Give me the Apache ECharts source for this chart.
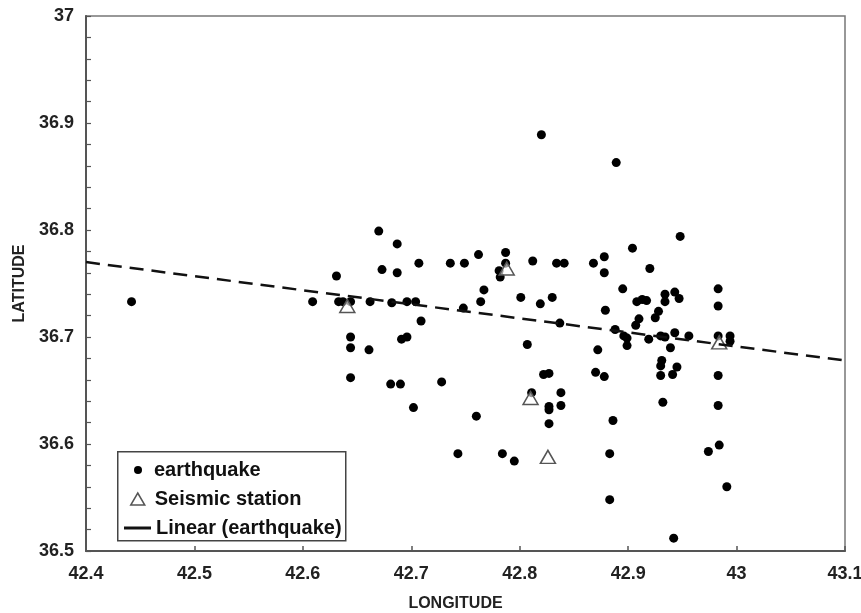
<!DOCTYPE html>
<html>
<head>
<meta charset="utf-8">
<script src="https://cdn.jsdelivr.net/npm/echarts@6/dist/echarts.min.js"></script>
<style>html,body{margin:0;padding:0;background:#fff}#c{width:861px;height:613px}</style>
</head>
<body>
<div id="c"></div>
<script>
// Earthquake epicentres (longitude, latitude)
var eqLon = [42.442,42.609,42.631,42.633,42.637,42.644,42.644,42.644,42.644,42.662,
  42.661,42.670,42.673,42.687,42.687,42.707,42.682,42.696,42.704,42.709,
  42.691,42.696,42.681,42.690,42.728,42.702,42.736,42.749,42.748,42.762,
  42.767,42.764,42.760,42.743,42.787,42.787,42.781,42.782,42.784,42.795,
  42.801,42.812,42.807,42.811,42.819,42.820,42.830,42.822,42.827,42.827,
  42.827,42.827,42.834,42.841,42.837,42.838,42.838,42.868,42.878,42.878,
  42.879,42.872,42.870,42.878,42.886,42.883,42.883,42.888,42.889,42.895,
  42.896,42.899,42.899,42.904,42.908,42.913,42.917,42.920,42.907,42.910,
  42.919,42.925,42.928,42.930,42.934,42.934,42.934,42.943,42.947,42.943,
  42.939,42.948,42.956,42.931,42.930,42.945,42.930,42.941,42.932,42.942,
  42.983,42.983,42.983,42.994,42.994,42.983,42.983,42.974,42.984,42.991];
var eqLat = [36.733,36.733,36.757,36.733,36.733,36.733,36.700,36.690,36.662,36.733,
  36.688,36.799,36.763,36.787,36.760,36.769,36.732,36.733,36.733,36.715,
  36.698,36.700,36.656,36.656,36.658,36.634,36.769,36.769,36.727,36.777,
  36.744,36.733,36.626,36.591,36.779,36.769,36.762,36.756,36.591,36.584,
  36.737,36.771,36.693,36.648,36.731,36.889,36.737,36.665,36.666,36.635,
  36.632,36.619,36.769,36.769,36.713,36.648,36.636,36.769,36.775,36.760,
  36.725,36.688,36.667,36.663,36.622,36.591,36.548,36.707,36.863,36.745,
  36.701,36.699,36.692,36.783,36.733,36.735,36.734,36.764,36.711,36.717,
  36.698,36.718,36.724,36.701,36.700,36.740,36.733,36.742,36.736,36.704,
  36.690,36.794,36.701,36.678,36.673,36.672,36.664,36.665,36.639,36.512,
  36.745,36.729,36.701,36.701,36.696,36.664,36.636,36.593,36.599,36.560];
// Seismic stations
var stLon = [42.641,42.788,42.810,42.826,42.984];
var stLat = [36.729,36.764,36.643,36.588,36.695];
// Linear trend (earthquake) end points
var trendLon = [42.4,43.1];
var trendLat = [36.770,36.678];
var seriesNames = ['earthquake','Seismic station','Linear (earthquake)'];

function pairs(a,b){var r=[];for(var i=0;i<a.length;i++)r.push([a[i],b[i]]);return r;}

var FONT = '"Liberation Sans", Arial, sans-serif';
var chart = echarts.init(document.getElementById('c'), null, {renderer:'canvas'});
var legendText = {fontFamily:FONT, fontWeight:'bold', fontSize:20, color:'#111'};
chart.setOption({
  animation:false,
  backgroundColor:'#fff',
  grid:{left:86, right:16, top:16, bottom:62, containLabel:false, outerBoundsMode:'none',
    show:true, borderColor:'#777', borderWidth:1.5, backgroundColor:'#fff'},
  xAxis:{type:'value', min:42.4, max:43.1, interval:0.1,
    name:'LONGITUDE', nameLocation:'middle', nameGap:45,
    nameTextStyle:{fontFamily:FONT, fontWeight:'bold', fontSize:16, color:'#222', padding:[0,20,0,0]},
    axisLine:{lineStyle:{color:'#555', width:2}},
    axisTick:{inside:true, length:5, lineStyle:{color:'#555', width:1.5}},
    axisLabel:{fontFamily:FONT, fontWeight:'bold', fontSize:18, color:'#222', margin:14},
    splitLine:{show:false}},
  yAxis:{type:'value', min:36.5, max:37, interval:0.1,
    name:'LATITUDE', nameLocation:'middle', nameGap:58, nameRotate:90,
    nameTextStyle:{fontFamily:FONT, fontWeight:'bold', fontSize:16, color:'#222'},
    axisLine:{lineStyle:{color:'#555', width:2}},
    axisTick:{inside:true, length:5, lineStyle:{color:'#555', width:1.2}},
    minorTick:{show:true, splitNumber:5, length:5, lineStyle:{color:'#555', width:1.2}},
    axisLabel:{fontFamily:FONT, fontWeight:'bold', fontSize:18, color:'#222', margin:12},
    splitLine:{show:false}},
  legend:[
    {data:[{name:seriesNames[0], icon:'circle', itemStyle:{color:'#000', opacity:1}}], left:129, top:455, orient:'vertical',
      itemWidth:22, itemHeight:8, textStyle:legendText, z:10},
    {data:[{name:seriesNames[1], icon:'triangle', itemStyle:{color:'#fff', borderColor:'#555', borderWidth:1.5}}], left:125, top:484, orient:'vertical',
      itemWidth:14, itemHeight:12, textStyle:Object.assign({padding:[0,0,0,5]}, legendText), z:10},
    {data:[{name:seriesNames[2], icon:'path://M0,0L27,0L27,3L0,3Z', itemStyle:{color:'#111', opacity:1}}], left:119, top:513, orient:'vertical',
      itemWidth:27, itemHeight:3, textStyle:legendText, z:10}
  ],
  graphic:[{type:'rect', left:117, top:451, shape:{width:228, height:89}, z:5,
    style:{fill:'#fff', stroke:'#444', lineWidth:1.5}}],
  series:[
    {name:seriesNames[0], type:'scatter', data:pairs(eqLon,eqLat), symbol:'circle', symbolSize:9,
      itemStyle:{color:'#000', opacity:1}, z:2},
    {name:seriesNames[1], type:'scatter', data:pairs(stLon,stLat), symbol:'triangle', symbolSize:[15,13],
      itemStyle:{color:'rgba(255,255,255,0.6)', borderColor:'#555', borderWidth:1.5, opacity:1}, z:3},
    {name:seriesNames[2], type:'line', data:pairs(trendLon,trendLat), symbol:'none',
      lineStyle:{color:'#111', width:2.5, type:[14,8]}, z:4}
  ]
});
</script>
</body>
</html>
